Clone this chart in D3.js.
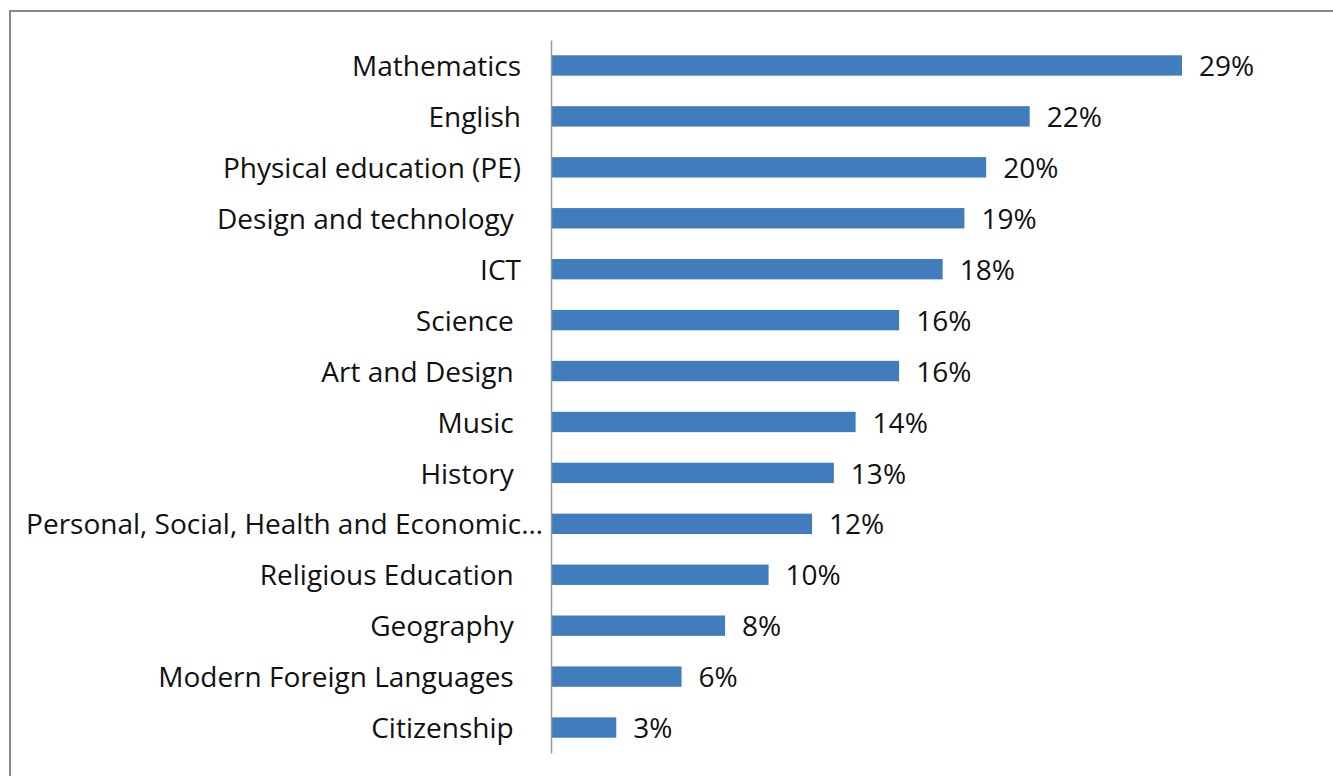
<!DOCTYPE html>
<html>
<head>
<meta charset="utf-8">
<script src="https://cdn.jsdelivr.net/npm/d3@7"></script>
<style>
  body { margin: 0; background: #fff; }
  svg text { font-family: "Open Sans", sans-serif; white-space: pre; }
</style>
</head>
<body>
<div id="wrapper"></div>
<script>
const subjects = [
  "Mathematics", "English", "Physical education (PE)", "Design and technology ",
  "ICT", "Science ", "Art and Design ", "Music ", "History ",
  "Personal, Social, Health and Economic\u2026", "Religious Education ", "Geography ",
  "Modern Foreign Languages ", "Citizenship "
];
const shares = [29, 22, 20, 19, 18, 16, 16, 14, 13, 12, 10, 8, 6, 3];

const dimension = {
  width: 1333,
  height: 776,
  margin: { top: 40, left: 551, bottom: 23, right: 121 }
};
dimension.boundedWidth = dimension.width - dimension.margin.left - dimension.margin.right;
dimension.boundedHeight = dimension.height - dimension.margin.top - dimension.margin.bottom;

const svg = d3.select("#wrapper").append("svg")
  .attr("width", dimension.width)
  .attr("height", dimension.height);

// chart border (only top and left edges show)
svg.append("path")
  .attr("d", "M10,776 L10,11 L1333,11")
  .attr("fill", "none")
  .attr("stroke", "#888")
  .attr("stroke-width", 2);

const bounded = svg.append("g")
  .attr("transform", `translate(${dimension.margin.left},${dimension.margin.top})`);

const xScaler = d3.scaleLinear()
  .domain([0, 29])
  .range([0, 631]);

const yScaler = d3.scaleBand()
  .domain(subjects)
  .range([0, dimension.boundedHeight])
  .paddingInner(0.6)
  .paddingOuter(0.3);

bounded.selectAll("rect")
  .data(subjects)
  .join("rect")
  .attr("x", 0)
  .attr("y", d => yScaler(d))
  .attr("width", (d, i) => xScaler(shares[i]))
  .attr("height", yScaler.bandwidth())
  .attr("fill", "#417dbd");

bounded.selectAll(".val")
  .data(subjects)
  .join("text")
  .attr("class", "val")
  .attr("x", (d, i) => xScaler(shares[i]) + 17)
  .attr("y", d => yScaler(d) + yScaler.bandwidth() / 2)
  .attr("dy", "0.38em")
  .attr("font-size", 28)
  .attr("fill", "#111")
  .text((d, i) => shares[i] + "%");

const yAxis = d3.axisLeft(yScaler).tickSize(0).tickPadding(30);
const axisG = bounded.append("g").call(yAxis);
axisG.select(".domain").attr("stroke", "#999").attr("stroke-width", 1.5);
axisG.selectAll("text")
  .attr("font-size", 28)
  .attr("font-family", "'Open Sans', sans-serif")
  .attr("dy", "0.38em")
  .attr("fill", "#111")
  // the truncated label overflows toward the axis in the original
  .attr("dx", d => d.endsWith("\u2026") ? 22 : 0);
</script>
</body>
</html>
